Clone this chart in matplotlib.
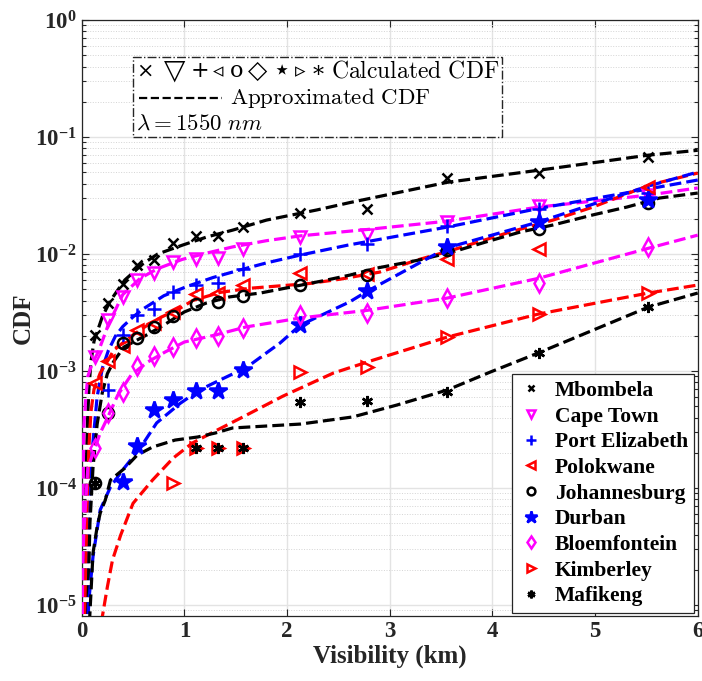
import numpy as np
import matplotlib
matplotlib.use('Agg')
import matplotlib.pyplot as plt
from matplotlib.patches import Rectangle
from matplotlib.ticker import LogLocator, NullLocator, NullFormatter

plt.rcParams['font.family'] = 'Liberation Serif'
plt.rcParams['font.weight'] = 'bold'
plt.rcParams['mathtext.fontset'] = 'custom'
plt.rcParams['mathtext.rm'] = 'Liberation Serif:bold'
plt.rcParams['mathtext.bf'] = 'Liberation Serif:bold'
plt.rcParams['mathtext.it'] = 'Liberation Serif:italic:bold'
plt.rcParams['mathtext.default'] = 'rm'

nan = np.nan

# visibility values where the CDF was calculated (km)
vis_km = [0.13, 0.26, 0.40, 0.54, 0.70, 0.89, 1.11, 1.33, 1.57, 2.13, 2.78, 3.56, 4.45, 5.52]

# calculated CDF per station
mbombela = [2.03e-3, 3.81e-3, 5.54e-3, 8.06e-3, 8.89e-3, 1.24e-2, 1.43e-2, 1.43e-2, 1.70e-2,
            2.24e-2, 2.43e-2, 4.47e-2, 4.92e-2, 6.75e-2]
cape_town = [1.32e-3, 2.73e-3, 4.29e-3, 6.00e-3, 6.89e-3, 8.55e-3, 9.06e-3, 9.25e-3, 1.10e-2,
             1.40e-2, 1.45e-2, 1.88e-2, 2.57e-2, 3.19e-2]
port_elizabeth = [nan, 6.88e-4, 2.03e-3, 3.01e-3, 3.39e-3, 4.73e-3, 5.43e-3, 5.65e-3, 7.44e-3,
                  1.00e-2, 1.22e-2, 1.73e-2, 2.43e-2, 3.30e-2]
polokwane = [7.9e-4, 1.22e-3, 1.64e-3, 2.24e-3, 2.57e-3, 3.19e-3, 4.55e-3, 4.64e-3, 5.43e-3,
             6.89e-3, 6.75e-3, 9.10e-3, 1.10e-2, 3.74e-2]
johannesburg = [1.10e-4, 4.4e-4, 1.73e-3, 1.91e-3, 2.38e-3, 2.95e-3, 3.74e-3, 3.89e-3, 4.38e-3,
                5.43e-3, 6.62e-3, 1.08e-2, 1.64e-2, 2.73e-2]
durban = [nan, nan, 1.12e-4, 2.3e-4, 4.6e-4, 5.6e-4, 6.7e-4, 6.7e-4, 1.02e-3,
          2.47e-3, 4.83e-3, 1.15e-2, 1.88e-2, 2.90e-2]
bloemfontein = [2.2e-4, 4.4e-4, 6.6e-4, 1.10e-3, 1.34e-3, 1.60e-3, 1.91e-3, 1.99e-3, 2.33e-3,
                3.01e-3, 3.13e-3, 4.21e-3, 5.65e-3, 1.15e-2]
kimberley = [nan, nan, nan, nan, nan, 1.10e-4, 2.2e-4, 2.2e-4, 2.2e-4,
             9.8e-4, 1.08e-3, 1.95e-3, 3.07e-3, 4.64e-3]
mafikeng = [1.10e-4, nan, nan, nan, nan, nan, 2.2e-4, 2.2e-4, 2.2e-4,
            5.4e-4, 5.5e-4, 6.6e-4, 1.43e-3, 3.52e-3]

# approximated CDF curves
mbombela_fit_x = [0.022, 0.03, 0.04, 0.055, 0.07, 0.09, 0.12, 0.20, 0.28, 0.42, 0.60, 0.74, 0.98,
                  1.22, 1.47, 1.80, 2.29, 2.61, 3.56, 4.45, 5.52, 6.0]
mbombela_fit = [6e-6, 2.5e-5, 1.0e-4, 3.5e-4, 7.0e-4, 1.2e-3, 1.8e-3, 2.9e-3, 4.0e-3, 6.0e-3, 8.3e-3,
                1.0e-2, 1.19e-2, 1.40e-2, 1.60e-2, 1.95e-2, 2.38e-2, 2.75e-2, 4.1e-2, 5.2e-2, 7.0e-2, 7.7e-2]
cape_town_fit_x = [0.006, 0.012, 0.02, 0.04, 0.06, 0.10, 0.16, 0.21, 0.26, 0.40, 0.57, 0.74, 0.98,
                   1.22, 1.47, 1.80, 2.13, 2.78, 3.56, 4.45, 5.52, 6.0]
cape_town_fit = [6e-6, 8e-5, 3.3e-4, 6.0e-4, 9.0e-4, 1.15e-3, 1.45e-3, 1.9e-3, 2.5e-3, 4.5e-3, 6.2e-3,
                 7.5e-3, 9.0e-3, 1.02e-2, 1.15e-2, 1.30e-2, 1.43e-2, 1.62e-2, 1.91e-2, 2.52e-2, 3.19e-2, 3.67e-2]
port_elizabeth_fit_x = [0.045, 0.07, 0.10, 0.15, 0.20, 0.26, 0.33, 0.40, 0.50, 0.60, 0.80, 1.03, 1.28,
                        1.54, 1.80, 2.13, 2.59, 3.56, 4.45, 5.52, 6.0]
port_elizabeth_fit = [6e-6, 6e-5, 2e-4, 6e-4, 1.05e-3, 1.5e-3, 2.0e-3, 2.4e-3, 2.9e-3, 3.4e-3, 4.4e-3,
                      5.3e-3, 6.3e-3, 7.3e-3, 8.4e-3, 9.8e-3, 1.19e-2, 1.70e-2, 2.45e-2, 3.6e-2, 4.29e-2]
polokwane_fit_x = [0.03, 0.05, 0.07, 0.09, 0.12, 0.18, 0.26, 0.31, 0.47, 0.62, 0.78, 0.96, 1.08, 1.35,
                   1.64, 2.22, 2.52, 2.90, 3.29, 3.61, 4.17, 4.59, 4.98, 5.53, 6.0]
polokwane_fit = [6e-6, 6e-5, 2.2e-4, 4.5e-4, 7.0e-4, 9.6e-4, 1.25e-3, 1.5e-3, 1.95e-3, 2.4e-3, 2.9e-3,
                 3.45e-3, 4.0e-3, 4.7e-3, 5.1e-3, 5.6e-3, 6.1e-3, 7.0e-3, 9.0e-3, 1.08e-2, 1.54e-2,
                 1.95e-2, 2.52e-2, 3.89e-2, 4.92e-2]
johannesburg_fit_x = [0.055, 0.08, 0.11, 0.15, 0.20, 0.25, 0.31, 0.41, 0.64, 0.80, 1.00, 1.21, 1.44,
                      1.74, 2.03, 2.35, 2.61, 2.88, 3.29, 3.61, 3.94, 4.27, 4.59, 4.98, 5.31, 5.63, 6.0]
johannesburg_fit = [6e-6, 5e-5, 1.5e-4, 3.5e-4, 6.5e-4, 9.5e-4, 1.2e-3, 1.6e-3, 2.05e-3, 2.47e-3, 3.2e-3,
                    3.8e-3, 4.3e-3, 4.64e-3, 5.2e-3, 5.9e-3, 6.6e-3, 7.6e-3, 8.9e-3, 1.04e-2, 1.27e-2,
                    1.54e-2, 1.77e-2, 2.16e-2, 2.52e-2, 3.01e-2, 3.32e-2]
durban_fit_x = [0.055, 0.07, 0.11, 0.18, 0.28, 0.40, 0.57, 0.73, 0.96, 1.15, 1.35, 1.61, 1.80, 1.93,
                2.13, 2.61, 2.78, 3.56, 4.45, 5.52, 6.0]
durban_fit = [6e-6, 1.1e-5, 2.6e-5, 6.5e-5, 1.02e-4, 1.43e-4, 2.2e-4, 3.6e-4, 5.3e-4, 6.9e-4, 8.4e-4,
              1.08e-3, 1.43e-3, 1.73e-3, 2.47e-3, 3.9e-3, 4.8e-3, 1.13e-2, 1.88e-2, 3.81e-2, 5.02e-2]
bloemfontein_fit_x = [0.004, 0.01, 0.02, 0.04, 0.06, 0.13, 0.18, 0.25, 0.35, 0.48, 0.64, 0.81, 1.0,
                      1.3, 1.6, 2.13, 2.78, 3.56, 4.45, 5.52, 6.0]
bloemfontein_fit = [6e-6, 2.1e-5, 4.1e-5, 7.9e-5, 1.5e-4, 2.2e-4, 2.95e-4, 3.96e-4, 6.2e-4, 9.2e-4,
                    1.19e-3, 1.45e-3, 1.77e-3, 2.03e-3, 2.38e-3, 2.84e-3, 3.3e-3, 4.2e-3, 6.2e-3,
                    1.12e-2, 1.45e-2]
kimberley_fit_x = [0.19, 0.25, 0.30, 0.38, 0.50, 0.69, 0.89, 1.08, 1.32, 1.57, 1.96, 2.45, 2.84, 3.56,
                   4.45, 5.52, 6.0]
kimberley_fit = [7e-6, 1.43e-5, 2.43e-5, 3.97e-5, 7.4e-5, 1.17e-4, 1.8e-4, 2.43e-4, 3.13e-4, 4.05e-4,
                 6.1e-4, 9.6e-4, 1.24e-3, 1.95e-3, 3.07e-3, 4.64e-3, 5.43e-3]
mafikeng_fit_x = [0.075, 0.10, 0.11, 0.15, 0.18, 0.23, 0.28, 0.42, 0.54, 0.69, 0.91, 1.13, 1.30, 1.47,
                  2.13, 2.64, 3.07, 3.56, 3.98, 4.45, 5.52, 6.0]
mafikeng_fit = [7e-6, 1.88e-5, 2.78e-5, 4.64e-5, 6.1e-5, 7.9e-5, 1.17e-4, 1.48e-4, 1.91e-4, 2.24e-4,
                2.57e-4, 2.73e-4, 2.95e-4, 3.26e-4, 3.52e-4, 4.05e-4, 5.12e-4, 6.88e-4, 9.8e-4,
                1.43e-3, 3.52e-3, 4.64e-3]

names = ['Mbombela', 'Cape Town', 'Port Elizabeth', 'Polokwane', 'Johannesburg',
         'Durban', 'Bloemfontein', 'Kimberley', 'Mafikeng']
calc = [mbombela, cape_town, port_elizabeth, polokwane, johannesburg,
        durban, bloemfontein, kimberley, mafikeng]
fits = [(mbombela_fit_x, mbombela_fit), (cape_town_fit_x, cape_town_fit),
        (port_elizabeth_fit_x, port_elizabeth_fit), (polokwane_fit_x, polokwane_fit),
        (johannesburg_fit_x, johannesburg_fit), (durban_fit_x, durban_fit),
        (bloemfontein_fit_x, bloemfontein_fit), (kimberley_fit_x, kimberley_fit),
        (mafikeng_fit_x, mafikeng_fit)]

MAG = '#ff00ff'
# marker, colour, hollow?, size
styles = [('x', 'k', False, 7),
          ('v', MAG, True, 9),
          ('+', 'b', False, 10),
          ('<', 'r', True, 9),
          ('o', 'k', True, 8),
          ('*', 'b', False, 13),
          ('d', MAG, True, 9),
          ('>', 'r', True, 9),
          ((6, 2, 0), 'k', False, 8)]

fig = plt.figure(figsize=(7.02, 6.81), dpi=100)
ax = fig.add_axes([0.1164, 0.0954, 0.8775, 0.8752])

for (fx, fy), (m, c, hollow, ms) in zip(fits, styles):
    ax.plot(fx, fy, ls='--', color=c, lw=2.3, zorder=3)

for name, y, (m, c, hollow, ms) in zip(names, calc, styles):
    ax.plot(vis_km, y, ls='none', marker=m, ms=ms, mec=c,
            mfc='none' if hollow else c, mew=1.8, color=c, zorder=4, label=name)

ax.set_yscale('log')
ax.set_xlim(0, 6)
ax.set_ylim(8.05e-6, 1)
ax.xaxis.set_minor_locator(NullLocator())
ax.yaxis.set_major_locator(LogLocator(base=10, numticks=10))
ax.yaxis.set_minor_locator(LogLocator(base=10, subs=np.arange(2, 10), numticks=20))
ax.yaxis.set_minor_formatter(NullFormatter())

ax.set_axisbelow(True)
ax.grid(which='major', color='#e3e3e3', lw=1.0)
ax.grid(which='minor', axis='y', color='#d4d4d4', ls=':', lw=0.7)
ax.tick_params(which='both', direction='in', top=True, right=True, colors='#262626',
               labelsize=16.5, width=0.8)
ax.tick_params(which='major', length=5)
ax.tick_params(which='minor', length=3)
for s in ax.spines.values():
    s.set_color('#262626')
    s.set_linewidth(0.9)

ax.set_xlabel('Visibility (km)', fontsize=18, fontweight='bold', color='#262626', labelpad=2)
ax.set_ylabel('CDF', fontsize=18, fontweight='bold', color='#262626', labelpad=0)

# annotation box
ax.add_patch(Rectangle((0.083, 0.804), 0.599, 0.134, transform=ax.transAxes,
                       facecolor='white', edgecolor='#262626', ls='-.', lw=1.0, zorder=5))
box_symbols = ['\u00d7', '\u25bd', '+', '\u25c3', 'o', '\u25c7', '\u22c6', '\u25b9', '\u2217']
symbol_pos = [0.103, 0.151, 0.192, 0.221, 0.251, 0.286, 0.325, 0.354, 0.384]
symbol_size = [15, 20, 16, 15, 16, 18, 21, 15, 16]
for s, xp, fs in zip(box_symbols, symbol_pos, symbol_size):
    ax.text(xp, 0.914, s, transform=ax.transAxes, ha='center', va='center',
            fontsize=fs, fontweight='normal', family=['DejaVu Serif', 'DejaVu Sans'], zorder=6)
ax.text(0.405, 0.914, r'$\mathrm{Calculated\ CDF}$', transform=ax.transAxes,
        va='center', ha='left', fontsize=17, math_fontfamily='cm', zorder=6)
ax.plot([0.093, 0.228], [0.869, 0.869], transform=ax.transAxes, color='k', ls='--', lw=1.6, zorder=6)
ax.text(0.241, 0.869, r'$\mathrm{Approximated\ CDF}$', transform=ax.transAxes,
        va='center', ha='left', fontsize=16.5, math_fontfamily='cm', zorder=6)
ax.text(0.088, 0.826, r'$\lambda = 1550\ \mathit{nm}$', transform=ax.transAxes,
        va='center', ha='left', fontsize=16.5, math_fontfamily='cm', zorder=6)

leg = ax.legend(loc='lower right', fontsize=15.5, frameon=True, fancybox=False,
                edgecolor='#262626', framealpha=1, borderaxespad=0.15,
                markerscale=0.7, handlelength=1.2, handletextpad=0.5,
                labelspacing=0.26, borderpad=0.3)
leg.get_frame().set_linewidth(0.9)
leg.set_zorder(7)

fig.savefig('out.png', dpi=100)
